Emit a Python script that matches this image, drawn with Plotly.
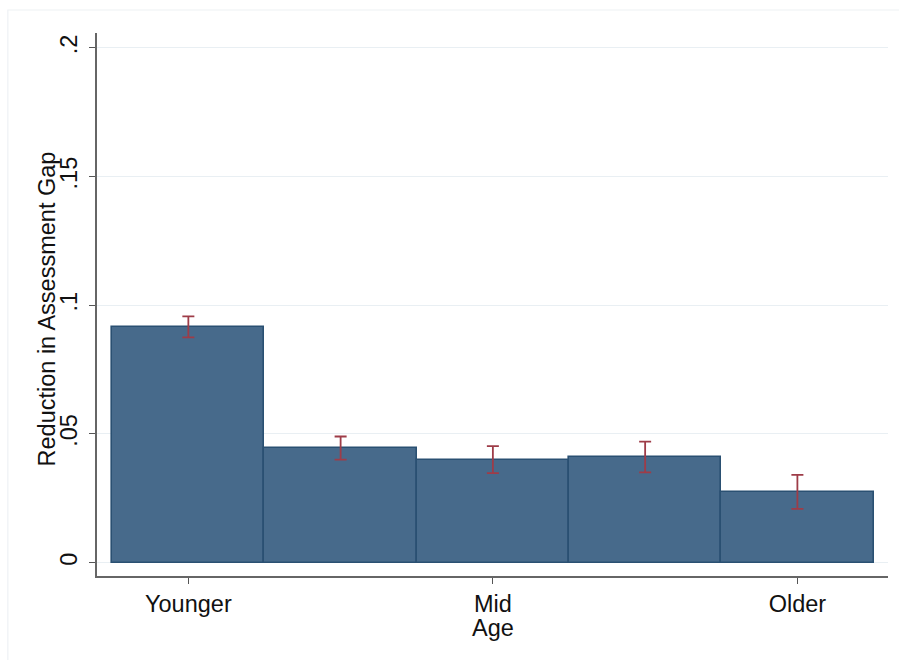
import plotly.graph_objects as go

# Age groups (five bins, only three labelled on the axis)
positions = [1, 2, 3, 4, 5]
gap_reduction = [0.0914, 0.0444, 0.0397, 0.0410, 0.0274]
ci_upper = [0.0957, 0.0490, 0.0453, 0.0470, 0.0341]
ci_lower = [0.0875, 0.0400, 0.0348, 0.0351, 0.0209]

x_tick_vals = [1, 3, 5]
x_tick_text = ["Younger", "Mid", "Older"]
y_tick_vals = [0, 0.05, 0.1, 0.15, 0.2]
y_tick_text = ["0", ".05", ".1", ".15", ".2"]

x_title = "Age"
y_title = "Reduction in Assessment Gap"

err_plus = [u - v for u, v in zip(ci_upper, gap_reduction)]
err_minus = [v - l for v, l in zip(gap_reduction, ci_lower)]

FONT = "Liberation Sans, Arial, sans-serif"
FS = 23.5

fig = go.Figure()
fig.add_trace(go.Bar(
    x=positions,
    y=gap_reduction,
    width=1,
    marker=dict(color="#476a8b", line=dict(color="#2a5072", width=1.6)),
    error_y=dict(
        type="data",
        array=err_plus,
        arrayminus=err_minus,
        color="#9e3c48",
        thickness=1.8,
        width=6,
    ),
    showlegend=False,
))

fig.update_layout(
    width=899,
    height=660,
    margin=dict(l=97, r=11, t=33, b=84),
    paper_bgcolor="white",
    plot_bgcolor="white",
    font=dict(family=FONT, size=FS, color="#111111"),
    bargap=0,
)

fig.update_xaxes(
    range=[0.4, 5.595],
    tickvals=x_tick_vals,
    ticktext=x_tick_text,
    ticks="outside",
    ticklen=6,
    tickwidth=1.3,
    tickcolor="#555555",
    showline=True,
    linecolor="#666666",
    linewidth=1.8,
    showgrid=False,
    zeroline=False,
    tickfont=dict(size=FS),
    ticklabelstandoff=0,
)

fig.update_yaxes(
    range=[-0.0052, 0.2058],
    tickvals=y_tick_vals,
    ticktext=y_tick_text,
    tickangle=-90,
    ticks="outside",
    ticklen=6,
    tickwidth=1.3,
    tickcolor="#555555",
    showline=True,
    linecolor="#666666",
    linewidth=1.8,
    showgrid=True,
    gridcolor="#e9eff3",
    gridwidth=1.2,
    zeroline=False,
    tickfont=dict(size=FS),
    ticklabelstandoff=3,
)

# axis titles placed as annotations for exact positioning
fig.add_annotation(
    text=y_title, textangle=-90, showarrow=False,
    xref="paper", yref="paper", x=-0.0633, y=0.4926,
    xanchor="center", yanchor="middle",
    font=dict(size=FS),
)
fig.add_annotation(
    text=x_title, showarrow=False,
    xref="paper", yref="paper", x=0.5, y=-0.0959,
    xanchor="center", yanchor="middle",
    font=dict(size=FS),
)

# faint outer frame of the graph region
fig.add_shape(
    type="rect", xref="paper", yref="paper",
    x0=-0.1127, x1=1.06, y0=-0.2, y1=1.0424,
    line=dict(color="#eef1f4", width=1.2),
    layer="below",
)

fig.write_html("out.html")
